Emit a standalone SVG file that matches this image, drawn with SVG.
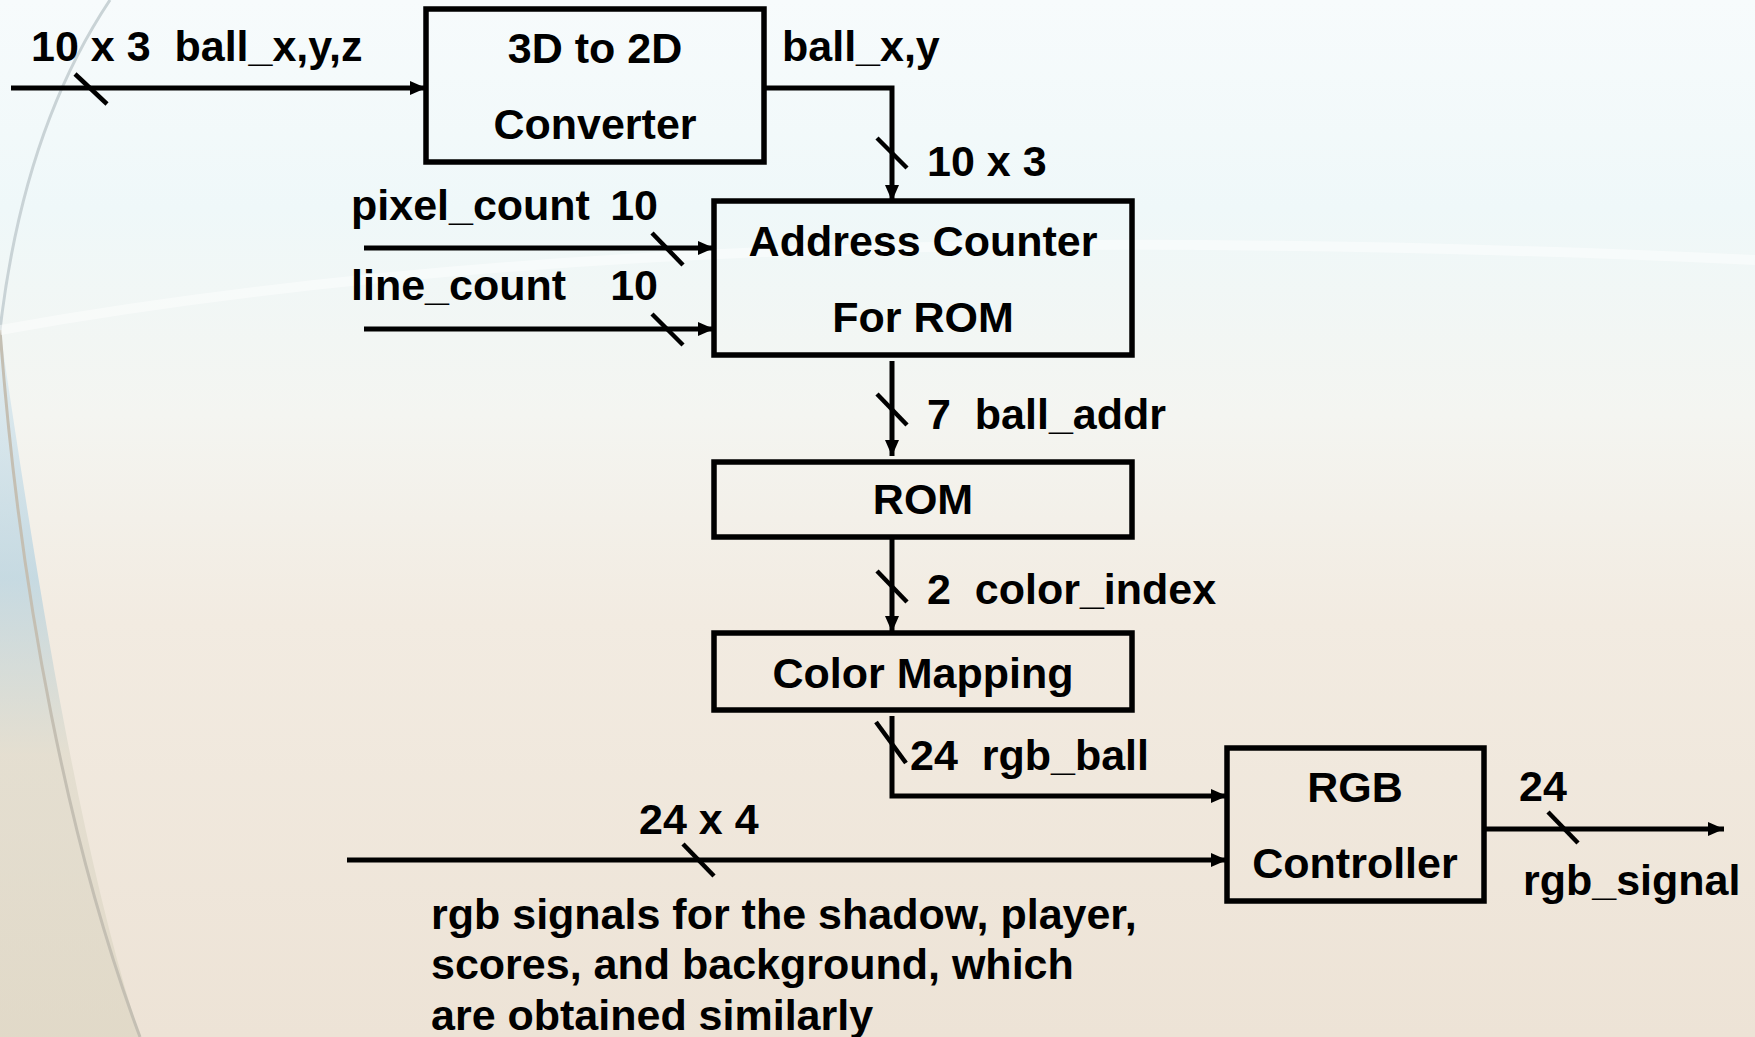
<svg xmlns="http://www.w3.org/2000/svg" width="1755" height="1037" viewBox="0 0 1755 1037">
<defs>
<linearGradient id="bg" x1="0" y1="0" x2="0" y2="1">
<stop offset="0" stop-color="#f7fbfc"/>
<stop offset="0.2" stop-color="#eff8f9"/>
<stop offset="0.4" stop-color="#f4f5f1"/>
<stop offset="0.6" stop-color="#f2ebe1"/>
<stop offset="1" stop-color="#ede3d6"/>
</linearGradient>
<linearGradient id="leftg" x1="0" y1="0" x2="0" y2="1">
<stop offset="0" stop-color="#d6e6ee"/>
<stop offset="0.35" stop-color="#a9cde0"/>
<stop offset="0.6" stop-color="#dcd8c8"/>
<stop offset="1" stop-color="#d9d3bf"/>
</linearGradient>
<marker id="arr" markerUnits="userSpaceOnUse" markerWidth="17" markerHeight="15" refX="16" refY="7" orient="auto">
<path d="M0,0 L16,7 L0,14 Z" fill="#000"/>
</marker>
<style>
.t{font-family:"Liberation Sans",Arial,sans-serif;font-weight:bold;font-size:43px;fill:#000;white-space:pre}
.m{text-anchor:middle}
.e{text-anchor:end}
.box{fill:none;stroke:#000;stroke-width:5.5}
.w{fill:none;stroke:#000;stroke-width:5}
.s{stroke:#000;stroke-width:4.5}
</style>
</defs>
<rect x="0" y="0" width="1755" height="1037" fill="url(#bg)"/>
<path d="M0,330 C40,600 80,850 140,1037 L0,1037 Z" fill="url(#leftg)" opacity="0.6"/>
<path d="M110,0 C50,90 15,200 0,330" fill="none" stroke="#c9d3d6" stroke-width="3"/>
<path d="M0,330 C20,600 70,850 140,1037" fill="none" stroke="#c4bfb3" stroke-width="3"/>
<path d="M0,330 C500,240 1100,230 1755,260" fill="none" stroke="#ffffff" stroke-width="10" opacity="0.45"/>

<g id="connectors">
<line class="w" x1="11" y1="88" x2="426" y2="88" marker-end="url(#arr)"/>
<line class="s" x1="75" y1="74" x2="107" y2="104"/>
<polyline class="w" points="764,88 892,88 892,201" marker-end="url(#arr)"/>
<line class="s" x1="877" y1="138" x2="907" y2="168"/>
<line class="w" x1="364" y1="248" x2="714" y2="248" marker-end="url(#arr)"/>
<line class="s" x1="652" y1="233" x2="683" y2="265"/>
<line class="w" x1="364" y1="329" x2="714" y2="329" marker-end="url(#arr)"/>
<line class="s" x1="652" y1="314" x2="683" y2="345"/>
<line class="w" x1="892" y1="361" x2="892" y2="456" marker-end="url(#arr)"/>
<line class="s" x1="877" y1="394" x2="907" y2="425"/>
<line class="w" x1="892" y1="537" x2="892" y2="632" marker-end="url(#arr)"/>
<line class="s" x1="877" y1="571" x2="907" y2="602"/>
<polyline class="w" points="892,716 892,796 1227,796" marker-end="url(#arr)"/>
<line class="s" x1="876" y1="722" x2="906" y2="763"/>
<line class="w" x1="347" y1="860" x2="1227" y2="860" marker-end="url(#arr)"/>
<line class="s" x1="683" y1="844" x2="714" y2="876"/>
<line class="w" x1="1484" y1="829" x2="1724" y2="829" marker-end="url(#arr)"/>
<line class="s" x1="1548" y1="812" x2="1578" y2="843"/>
</g>

<g id="labels">
<text class="t" x="31" y="61">10 x 3  ball_x,y,z</text>
<text class="t" x="782" y="61">ball_x,y</text>
<text class="t" x="927" y="176">10 x 3</text>
<text class="t" x="351" y="220">pixel_count</text>
<text class="t e" x="658" y="220">10</text>
<text class="t" x="351" y="300">line_count</text>
<text class="t e" x="658" y="300">10</text>
<text class="t" x="927" y="429">7  ball_addr</text>
<text class="t" x="927" y="604">2  color_index</text>
<text class="t" x="910" y="770">24  rgb_ball</text>
<text class="t" x="639" y="834">24 x 4</text>
<text class="t" x="1519" y="801">24</text>
<text class="t" x="1523" y="895">rgb_signal</text>
<text class="t" x="431" y="929">rgb signals for the shadow, player,</text>
<text class="t" x="431" y="979">scores, and background, which</text>
<text class="t" x="431" y="1030">are obtained similarly</text>
</g>

<g id="conv">
<rect class="box" x="426" y="9" width="338" height="153"/>
<text class="t m" x="595" y="63">3D to 2D</text>
<text class="t m" x="595" y="139">Converter</text>
</g>
<g id="addr">
<rect class="box" x="714" y="201" width="418" height="154"/>
<text class="t m" x="923" y="256">Address Counter</text>
<text class="t m" x="923" y="332">For ROM</text>
</g>
<g id="rom">
<rect class="box" x="714" y="462" width="418" height="75"/>
<text class="t m" x="923" y="514">ROM</text>
</g>
<g id="cmap">
<rect class="box" x="714" y="633" width="418" height="77"/>
<text class="t m" x="923" y="688">Color Mapping</text>
</g>
<g id="rgbc">
<rect class="box" x="1227" y="748" width="257" height="153"/>
<text class="t m" x="1355" y="802">RGB</text>
<text class="t m" x="1355" y="878">Controller</text>
</g>
</svg>
